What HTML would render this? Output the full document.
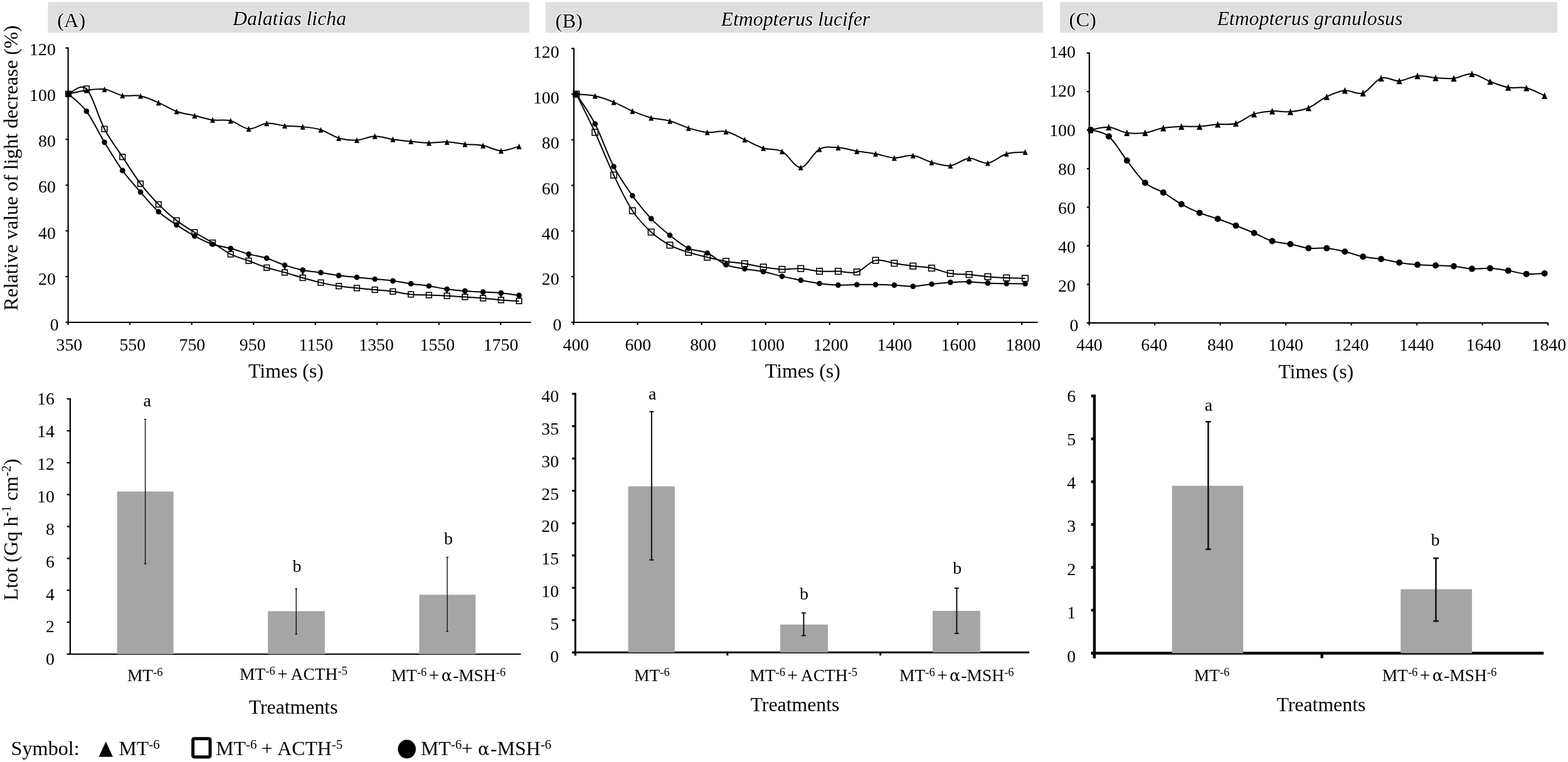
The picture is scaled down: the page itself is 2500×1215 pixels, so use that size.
<!DOCTYPE html>
<html><head><meta charset="utf-8"><title>Figure</title>
<style>
html,body{margin:0;padding:0;background:#fff;}
body{width:2500px;height:1215px;overflow:hidden;}
svg{display:block;font-family:'Liberation Serif', serif;}
</style></head><body>
<svg width="2500" height="1215" viewBox="0 0 2500 1215" font-family="'Liberation Serif', serif" fill="#000">
<rect width="2500" height="1215" fill="#fff"/>
<rect x="76.5" y="3.3" width="767.4" height="48.9" fill="#dfdfdf"/>
<rect x="869.9" y="3.3" width="792.8" height="48.9" fill="#dfdfdf"/>
<rect x="1690.2" y="3.3" width="793.0" height="48.9" fill="#dfdfdf"/>
<text x="91.3" y="43.2" font-size="32.5" text-anchor="start" stroke="#fff" stroke-width="2.2" paint-order="stroke" stroke-linejoin="round">(A)</text>
<text x="885.6" y="43.6" font-size="32.5" text-anchor="start" stroke="#fff" stroke-width="2.2" paint-order="stroke" stroke-linejoin="round">(B)</text>
<text x="1704.6" y="42" font-size="32.5" text-anchor="start" stroke="#fff" stroke-width="2.2" paint-order="stroke" stroke-linejoin="round">(C)</text>
<text x="371" y="40.4" font-size="31.8" text-anchor="start" font-style="italic" stroke="#fff" stroke-width="2.2" paint-order="stroke" stroke-linejoin="round">Dalatias licha</text>
<text x="1149.6" y="40.6" font-size="31.8" text-anchor="start" font-style="italic" stroke="#fff" stroke-width="2.2" paint-order="stroke" stroke-linejoin="round">Etmopterus lucifer</text>
<text x="1940.4" y="40.3" font-size="31.8" text-anchor="start" font-style="italic" stroke="#fff" stroke-width="2.2" paint-order="stroke" stroke-linejoin="round">Etmopterus granulosus</text>
<line x1="108.6" y1="75.5" x2="108.6" y2="515" stroke="#000" stroke-width="2.2"/>
<line x1="107.6" y1="514" x2="846.8" y2="514" stroke="#000" stroke-width="2.2"/>
<line x1="104.6" y1="76.5" x2="108.6" y2="76.5" stroke="#000" stroke-width="2.2"/>
<text x="88.8" y="87.8" font-size="27.8" text-anchor="end">120</text>
<line x1="104.6" y1="149.4" x2="108.6" y2="149.4" stroke="#000" stroke-width="2.2"/>
<text x="88.8" y="161" font-size="27.8" text-anchor="end">100</text>
<line x1="104.6" y1="222.3" x2="108.6" y2="222.3" stroke="#000" stroke-width="2.2"/>
<text x="88.8" y="234.2" font-size="27.8" text-anchor="end">80</text>
<line x1="104.6" y1="295.2" x2="108.6" y2="295.2" stroke="#000" stroke-width="2.2"/>
<text x="88.8" y="307.3" font-size="27.8" text-anchor="end">60</text>
<line x1="104.6" y1="368.1" x2="108.6" y2="368.1" stroke="#000" stroke-width="2.2"/>
<text x="88.8" y="380.5" font-size="27.8" text-anchor="end">40</text>
<line x1="104.6" y1="441" x2="108.6" y2="441" stroke="#000" stroke-width="2.2"/>
<text x="88.8" y="453.7" font-size="27.8" text-anchor="end">20</text>
<line x1="104.6" y1="513.9" x2="108.6" y2="513.9" stroke="#000" stroke-width="2.2"/>
<text x="93.6" y="526.9" font-size="27.8" text-anchor="end">0</text>
<line x1="108.6" y1="514" x2="108.6" y2="518" stroke="#000" stroke-width="2.2"/>
<text x="110.4" y="559.2" font-size="27.8" text-anchor="middle">350</text>
<line x1="207.1" y1="514" x2="207.1" y2="518" stroke="#000" stroke-width="2.2"/>
<text x="211.3" y="559.2" font-size="27.8" text-anchor="middle">550</text>
<line x1="305.7" y1="514" x2="305.7" y2="518" stroke="#000" stroke-width="2.2"/>
<text x="306.4" y="559.2" font-size="27.8" text-anchor="middle">750</text>
<line x1="404.2" y1="514" x2="404.2" y2="518" stroke="#000" stroke-width="2.2"/>
<text x="402.7" y="559.2" font-size="27.8" text-anchor="middle">950</text>
<line x1="502.7" y1="514" x2="502.7" y2="518" stroke="#000" stroke-width="2.2"/>
<text x="503.9" y="559.2" font-size="27.8" text-anchor="middle">1150</text>
<line x1="601.2" y1="514" x2="601.2" y2="518" stroke="#000" stroke-width="2.2"/>
<text x="600.1" y="559.2" font-size="27.8" text-anchor="middle">1350</text>
<line x1="699.8" y1="514" x2="699.8" y2="518" stroke="#000" stroke-width="2.2"/>
<text x="697.3" y="559.2" font-size="27.8" text-anchor="middle">1550</text>
<line x1="798.3" y1="514" x2="798.3" y2="518" stroke="#000" stroke-width="2.2"/>
<text x="798.5" y="559.2" font-size="27.8" text-anchor="middle">1750</text>
<text x="456" y="601.8" font-size="31.8" text-anchor="middle">Times (s)</text>
<path d="M109.10,149.80 C113.89,148.83 128.26,145.25 137.84,144.00 C147.42,142.75 157.00,140.93 166.58,142.30 C176.16,143.67 185.74,150.42 195.32,152.20 C204.90,153.98 214.48,151.08 224.06,153.00 C233.64,154.92 243.22,159.58 252.80,163.70 C262.38,167.82 271.96,174.27 281.54,177.70 C291.12,181.13 300.70,182.05 310.28,184.30 C319.86,186.55 329.44,189.82 339.02,191.20 C348.60,192.58 358.18,190.23 367.76,192.60 C377.34,194.97 386.92,204.72 396.50,205.40 C406.08,206.08 415.66,197.52 425.24,196.70 C434.82,195.88 444.40,199.58 453.98,200.50 C463.56,201.42 473.14,201.12 482.72,202.20 C492.30,203.28 501.88,204.00 511.46,207.00 C521.04,210.00 530.62,217.45 540.20,220.20 C549.78,222.95 559.36,224.00 568.94,223.50 C578.52,223.00 588.10,217.42 597.68,217.20 C607.26,216.98 616.84,220.82 626.42,222.20 C636.00,223.58 645.58,224.55 655.16,225.50 C664.74,226.45 674.32,227.77 683.90,227.90 C693.48,228.03 703.06,225.97 712.64,226.30 C722.22,226.63 731.80,228.93 741.38,229.90 C750.96,230.87 760.54,230.37 770.12,232.10 C779.70,233.83 789.28,240.08 798.86,240.30 C808.44,240.52 822.81,234.55 827.60,233.40" fill="none" stroke="#000" stroke-width="2"/>
<polygon points="105.10,154.40 113.10,154.40 109.10,145.20" fill="#000"/>
<polygon points="133.84,148.60 141.84,148.60 137.84,139.40" fill="#000"/>
<polygon points="162.58,146.90 170.58,146.90 166.58,137.70" fill="#000"/>
<polygon points="191.32,156.80 199.32,156.80 195.32,147.60" fill="#000"/>
<polygon points="220.06,157.60 228.06,157.60 224.06,148.40" fill="#000"/>
<polygon points="248.80,168.30 256.80,168.30 252.80,159.10" fill="#000"/>
<polygon points="277.54,182.30 285.54,182.30 281.54,173.10" fill="#000"/>
<polygon points="306.28,188.90 314.28,188.90 310.28,179.70" fill="#000"/>
<polygon points="335.02,195.80 343.02,195.80 339.02,186.60" fill="#000"/>
<polygon points="363.76,197.20 371.76,197.20 367.76,188.00" fill="#000"/>
<polygon points="392.50,210.00 400.50,210.00 396.50,200.80" fill="#000"/>
<polygon points="421.24,201.30 429.24,201.30 425.24,192.10" fill="#000"/>
<polygon points="449.98,205.10 457.98,205.10 453.98,195.90" fill="#000"/>
<polygon points="478.72,206.80 486.72,206.80 482.72,197.60" fill="#000"/>
<polygon points="507.46,211.60 515.46,211.60 511.46,202.40" fill="#000"/>
<polygon points="536.20,224.80 544.20,224.80 540.20,215.60" fill="#000"/>
<polygon points="564.94,228.10 572.94,228.10 568.94,218.90" fill="#000"/>
<polygon points="593.68,221.80 601.68,221.80 597.68,212.60" fill="#000"/>
<polygon points="622.42,226.80 630.42,226.80 626.42,217.60" fill="#000"/>
<polygon points="651.16,230.10 659.16,230.10 655.16,220.90" fill="#000"/>
<polygon points="679.90,232.50 687.90,232.50 683.90,223.30" fill="#000"/>
<polygon points="708.64,230.90 716.64,230.90 712.64,221.70" fill="#000"/>
<polygon points="737.38,234.50 745.38,234.50 741.38,225.30" fill="#000"/>
<polygon points="766.12,236.70 774.12,236.70 770.12,227.50" fill="#000"/>
<polygon points="794.86,244.90 802.86,244.90 798.86,235.70" fill="#000"/>
<polygon points="823.60,238.00 831.60,238.00 827.60,228.80" fill="#000"/>
<path d="M109.10,149.80 C113.89,154.40 128.26,164.57 137.84,177.40 C147.42,190.23 157.00,211.05 166.58,226.80 C176.16,242.55 185.74,258.63 195.32,271.90 C204.90,285.17 214.48,295.45 224.06,306.40 C233.64,317.35 243.22,328.88 252.80,337.60 C262.38,346.32 271.96,352.25 281.54,358.70 C291.12,365.15 300.70,371.17 310.28,376.30 C319.86,381.43 329.44,386.22 339.02,389.50 C348.60,392.78 358.18,393.40 367.76,396.00 C377.34,398.60 386.92,402.48 396.50,405.10 C406.08,407.72 415.66,408.73 425.24,411.70 C434.82,414.67 444.40,419.73 453.98,422.90 C463.56,426.07 473.14,428.73 482.72,430.70 C492.30,432.67 501.88,433.27 511.46,434.70 C521.04,436.13 530.62,438.05 540.20,439.30 C549.78,440.55 559.36,441.25 568.94,442.20 C578.52,443.15 588.10,444.07 597.68,445.00 C607.26,445.93 616.84,446.57 626.42,447.80 C636.00,449.03 645.58,451.03 655.16,452.40 C664.74,453.77 674.32,454.57 683.90,456.00 C693.48,457.43 703.06,459.68 712.64,461.00 C722.22,462.32 731.80,463.13 741.38,463.90 C750.96,464.67 760.54,465.05 770.12,465.60 C779.70,466.15 789.28,466.32 798.86,467.20 C808.44,468.08 822.81,470.28 827.60,470.90" fill="none" stroke="#000" stroke-width="2"/>
<circle cx="109.10" cy="149.80" r="4.35" fill="#000"/>
<circle cx="137.84" cy="177.40" r="4.35" fill="#000"/>
<circle cx="166.58" cy="226.80" r="4.35" fill="#000"/>
<circle cx="195.32" cy="271.90" r="4.35" fill="#000"/>
<circle cx="224.06" cy="306.40" r="4.35" fill="#000"/>
<circle cx="252.80" cy="337.60" r="4.35" fill="#000"/>
<circle cx="281.54" cy="358.70" r="4.35" fill="#000"/>
<circle cx="310.28" cy="376.30" r="4.35" fill="#000"/>
<circle cx="339.02" cy="389.50" r="4.35" fill="#000"/>
<circle cx="367.76" cy="396.00" r="4.35" fill="#000"/>
<circle cx="396.50" cy="405.10" r="4.35" fill="#000"/>
<circle cx="425.24" cy="411.70" r="4.35" fill="#000"/>
<circle cx="453.98" cy="422.90" r="4.35" fill="#000"/>
<circle cx="482.72" cy="430.70" r="4.35" fill="#000"/>
<circle cx="511.46" cy="434.70" r="4.35" fill="#000"/>
<circle cx="540.20" cy="439.30" r="4.35" fill="#000"/>
<circle cx="568.94" cy="442.20" r="4.35" fill="#000"/>
<circle cx="597.68" cy="445.00" r="4.35" fill="#000"/>
<circle cx="626.42" cy="447.80" r="4.35" fill="#000"/>
<circle cx="655.16" cy="452.40" r="4.35" fill="#000"/>
<circle cx="683.90" cy="456.00" r="4.35" fill="#000"/>
<circle cx="712.64" cy="461.00" r="4.35" fill="#000"/>
<circle cx="741.38" cy="463.90" r="4.35" fill="#000"/>
<circle cx="770.12" cy="465.60" r="4.35" fill="#000"/>
<circle cx="798.86" cy="467.20" r="4.35" fill="#000"/>
<circle cx="827.60" cy="470.90" r="4.35" fill="#000"/>
<path d="M109.10,149.80 C113.89,148.42 128.26,132.18 137.84,141.50 C147.42,150.82 157.00,187.58 166.58,205.70 C176.16,223.82 185.74,235.67 195.32,250.20 C204.90,264.73 214.48,280.28 224.06,292.90 C233.64,305.52 243.22,316.12 252.80,325.90 C262.38,335.68 271.96,344.17 281.54,351.60 C291.12,359.03 300.70,364.60 310.28,370.50 C319.86,376.40 329.44,381.18 339.02,387.00 C348.60,392.82 358.18,400.60 367.76,405.40 C377.34,410.20 386.92,412.23 396.50,415.80 C406.08,419.37 415.66,423.70 425.24,426.80 C434.82,429.90 444.40,431.70 453.98,434.40 C463.56,437.10 473.14,440.30 482.72,443.00 C492.30,445.70 501.88,448.40 511.46,450.60 C521.04,452.80 530.62,454.75 540.20,456.20 C549.78,457.65 559.36,458.33 568.94,459.30 C578.52,460.27 588.10,461.08 597.68,462.00 C607.26,462.92 616.84,463.57 626.42,464.80 C636.00,466.03 645.58,468.45 655.16,469.40 C664.74,470.35 674.32,470.12 683.90,470.50 C693.48,470.88 703.06,471.20 712.64,471.70 C722.22,472.20 731.80,472.87 741.38,473.50 C750.96,474.13 760.54,474.68 770.12,475.50 C779.70,476.32 789.28,477.67 798.86,478.40 C808.44,479.13 822.81,479.65 827.60,479.90" fill="none" stroke="#000" stroke-width="2"/>
<rect x="104.80" y="145.50" width="8.60" height="8.60" fill="none" stroke="#000" stroke-width="1.6"/>
<rect x="133.54" y="137.20" width="8.60" height="8.60" fill="none" stroke="#000" stroke-width="1.6"/>
<rect x="162.28" y="201.40" width="8.60" height="8.60" fill="none" stroke="#000" stroke-width="1.6"/>
<rect x="191.02" y="245.90" width="8.60" height="8.60" fill="none" stroke="#000" stroke-width="1.6"/>
<rect x="219.76" y="288.60" width="8.60" height="8.60" fill="none" stroke="#000" stroke-width="1.6"/>
<rect x="248.50" y="321.60" width="8.60" height="8.60" fill="none" stroke="#000" stroke-width="1.6"/>
<rect x="277.24" y="347.30" width="8.60" height="8.60" fill="none" stroke="#000" stroke-width="1.6"/>
<rect x="305.98" y="366.20" width="8.60" height="8.60" fill="none" stroke="#000" stroke-width="1.6"/>
<rect x="334.72" y="382.70" width="8.60" height="8.60" fill="none" stroke="#000" stroke-width="1.6"/>
<rect x="363.46" y="401.10" width="8.60" height="8.60" fill="none" stroke="#000" stroke-width="1.6"/>
<rect x="392.20" y="411.50" width="8.60" height="8.60" fill="none" stroke="#000" stroke-width="1.6"/>
<rect x="420.94" y="422.50" width="8.60" height="8.60" fill="none" stroke="#000" stroke-width="1.6"/>
<rect x="449.68" y="430.10" width="8.60" height="8.60" fill="none" stroke="#000" stroke-width="1.6"/>
<rect x="478.42" y="438.70" width="8.60" height="8.60" fill="none" stroke="#000" stroke-width="1.6"/>
<rect x="507.16" y="446.30" width="8.60" height="8.60" fill="none" stroke="#000" stroke-width="1.6"/>
<rect x="535.90" y="451.90" width="8.60" height="8.60" fill="none" stroke="#000" stroke-width="1.6"/>
<rect x="564.64" y="455.00" width="8.60" height="8.60" fill="none" stroke="#000" stroke-width="1.6"/>
<rect x="593.38" y="457.70" width="8.60" height="8.60" fill="none" stroke="#000" stroke-width="1.6"/>
<rect x="622.12" y="460.50" width="8.60" height="8.60" fill="none" stroke="#000" stroke-width="1.6"/>
<rect x="650.86" y="465.10" width="8.60" height="8.60" fill="none" stroke="#000" stroke-width="1.6"/>
<rect x="679.60" y="466.20" width="8.60" height="8.60" fill="none" stroke="#000" stroke-width="1.6"/>
<rect x="708.34" y="467.40" width="8.60" height="8.60" fill="none" stroke="#000" stroke-width="1.6"/>
<rect x="737.08" y="469.20" width="8.60" height="8.60" fill="none" stroke="#000" stroke-width="1.6"/>
<rect x="765.82" y="471.20" width="8.60" height="8.60" fill="none" stroke="#000" stroke-width="1.6"/>
<rect x="794.56" y="474.10" width="8.60" height="8.60" fill="none" stroke="#000" stroke-width="1.6"/>
<rect x="823.30" y="475.60" width="8.60" height="8.60" fill="none" stroke="#000" stroke-width="1.6"/>
<line x1="367.76" y1="396.00" x2="367.76" y2="401.40" stroke="#000" stroke-width="2.6"/>
<line x1="396.50" y1="405.10" x2="396.50" y2="411.80" stroke="#000" stroke-width="2.6"/>
<line x1="453.98" y1="422.90" x2="453.98" y2="430.40" stroke="#000" stroke-width="2.6"/>
<line x1="482.72" y1="430.70" x2="482.72" y2="439.00" stroke="#000" stroke-width="2.6"/>
<line x1="712.64" y1="461.00" x2="712.64" y2="467.70" stroke="#000" stroke-width="2.6"/>
<line x1="741.38" y1="463.90" x2="741.38" y2="469.50" stroke="#000" stroke-width="2.6"/>
<line x1="770.12" y1="465.60" x2="770.12" y2="471.50" stroke="#000" stroke-width="2.6"/>
<line x1="798.86" y1="467.20" x2="798.86" y2="474.40" stroke="#000" stroke-width="2.6"/>
<line x1="827.60" y1="470.90" x2="827.60" y2="475.90" stroke="#000" stroke-width="2.6"/>
<line x1="915" y1="76.5" x2="915" y2="515" stroke="#000" stroke-width="2.2"/>
<line x1="914" y1="514" x2="1654.7" y2="514" stroke="#000" stroke-width="2.2"/>
<line x1="911" y1="77.4" x2="915" y2="77.4" stroke="#000" stroke-width="2.2"/>
<text x="891.6" y="92.1" font-size="27.8" text-anchor="end">120</text>
<line x1="911" y1="150.2" x2="915" y2="150.2" stroke="#000" stroke-width="2.2"/>
<text x="891.6" y="164.6" font-size="27.8" text-anchor="end">100</text>
<line x1="911" y1="222.9" x2="915" y2="222.9" stroke="#000" stroke-width="2.2"/>
<text x="891.6" y="237" font-size="27.8" text-anchor="end">80</text>
<line x1="911" y1="295.6" x2="915" y2="295.6" stroke="#000" stroke-width="2.2"/>
<text x="891.6" y="309.5" font-size="27.8" text-anchor="end">60</text>
<line x1="911" y1="368.4" x2="915" y2="368.4" stroke="#000" stroke-width="2.2"/>
<text x="891.6" y="382" font-size="27.8" text-anchor="end">40</text>
<line x1="911" y1="441.1" x2="915" y2="441.1" stroke="#000" stroke-width="2.2"/>
<text x="891.6" y="454.4" font-size="27.8" text-anchor="end">20</text>
<line x1="911" y1="513.9" x2="915" y2="513.9" stroke="#000" stroke-width="2.2"/>
<text x="895.5" y="526.9" font-size="27.8" text-anchor="end">0</text>
<line x1="914.5" y1="514" x2="914.5" y2="518" stroke="#000" stroke-width="2.2"/>
<text x="918.4" y="559.2" font-size="27.8" text-anchor="middle">400</text>
<line x1="1016.6" y1="514" x2="1016.6" y2="518" stroke="#000" stroke-width="2.2"/>
<text x="1017.3" y="559.2" font-size="27.8" text-anchor="middle">600</text>
<line x1="1118.7" y1="514" x2="1118.7" y2="518" stroke="#000" stroke-width="2.2"/>
<text x="1121" y="559.2" font-size="27.8" text-anchor="middle">800</text>
<line x1="1220.8" y1="514" x2="1220.8" y2="518" stroke="#000" stroke-width="2.2"/>
<text x="1223.2" y="559.2" font-size="27.8" text-anchor="middle">1000</text>
<line x1="1322.9" y1="514" x2="1322.9" y2="518" stroke="#000" stroke-width="2.2"/>
<text x="1324.7" y="559.2" font-size="27.8" text-anchor="middle">1200</text>
<line x1="1425" y1="514" x2="1425" y2="518" stroke="#000" stroke-width="2.2"/>
<text x="1426.4" y="559.2" font-size="27.8" text-anchor="middle">1400</text>
<line x1="1527.1" y1="514" x2="1527.1" y2="518" stroke="#000" stroke-width="2.2"/>
<text x="1528.4" y="559.2" font-size="27.8" text-anchor="middle">1600</text>
<line x1="1629.2" y1="514" x2="1629.2" y2="518" stroke="#000" stroke-width="2.2"/>
<text x="1631.4" y="559.2" font-size="27.8" text-anchor="middle">1800</text>
<text x="1279.8" y="601.8" font-size="31.8" text-anchor="middle">Times (s)</text>
<path d="M918.90,150.10 C923.87,150.58 938.78,150.87 948.72,153.00 C958.66,155.13 968.60,158.88 978.54,162.90 C988.48,166.92 998.42,172.95 1008.36,177.10 C1018.30,181.25 1028.24,185.18 1038.18,187.80 C1048.12,190.42 1058.06,190.08 1068.00,192.80 C1077.94,195.52 1087.88,201.07 1097.82,204.10 C1107.76,207.13 1117.70,210.05 1127.64,211.00 C1137.58,211.95 1147.52,207.85 1157.46,209.80 C1167.40,211.75 1177.34,218.30 1187.28,222.70 C1197.22,227.10 1207.16,233.08 1217.10,236.20 C1227.04,239.32 1236.98,236.27 1246.92,241.40 C1256.86,246.53 1266.80,267.60 1276.74,267.00 C1286.68,266.40 1296.62,243.08 1306.56,237.80 C1316.50,232.52 1326.44,234.75 1336.38,235.30 C1346.32,235.85 1356.26,239.45 1366.20,241.10 C1376.14,242.75 1386.08,243.42 1396.02,245.20 C1405.96,246.98 1415.90,251.33 1425.84,251.80 C1435.78,252.27 1445.72,246.82 1455.66,248.00 C1465.60,249.18 1475.54,256.20 1485.48,258.90 C1495.42,261.60 1505.36,265.25 1515.30,264.20 C1525.24,263.15 1535.18,253.30 1545.12,252.60 C1555.06,251.90 1565.00,261.23 1574.94,260.00 C1584.88,258.77 1594.82,248.13 1604.76,245.20 C1614.70,242.27 1629.61,242.87 1634.58,242.40" fill="none" stroke="#000" stroke-width="2"/>
<polygon points="914.90,154.70 922.90,154.70 918.90,145.50" fill="#000"/>
<polygon points="944.72,157.60 952.72,157.60 948.72,148.40" fill="#000"/>
<polygon points="974.54,167.50 982.54,167.50 978.54,158.30" fill="#000"/>
<polygon points="1004.36,181.70 1012.36,181.70 1008.36,172.50" fill="#000"/>
<polygon points="1034.18,192.40 1042.18,192.40 1038.18,183.20" fill="#000"/>
<polygon points="1064.00,197.40 1072.00,197.40 1068.00,188.20" fill="#000"/>
<polygon points="1093.82,208.70 1101.82,208.70 1097.82,199.50" fill="#000"/>
<polygon points="1123.64,215.60 1131.64,215.60 1127.64,206.40" fill="#000"/>
<polygon points="1153.46,214.40 1161.46,214.40 1157.46,205.20" fill="#000"/>
<polygon points="1183.28,227.30 1191.28,227.30 1187.28,218.10" fill="#000"/>
<polygon points="1213.10,240.80 1221.10,240.80 1217.10,231.60" fill="#000"/>
<polygon points="1242.92,246.00 1250.92,246.00 1246.92,236.80" fill="#000"/>
<polygon points="1272.74,271.60 1280.74,271.60 1276.74,262.40" fill="#000"/>
<polygon points="1302.56,242.40 1310.56,242.40 1306.56,233.20" fill="#000"/>
<polygon points="1332.38,239.90 1340.38,239.90 1336.38,230.70" fill="#000"/>
<polygon points="1362.20,245.70 1370.20,245.70 1366.20,236.50" fill="#000"/>
<polygon points="1392.02,249.80 1400.02,249.80 1396.02,240.60" fill="#000"/>
<polygon points="1421.84,256.40 1429.84,256.40 1425.84,247.20" fill="#000"/>
<polygon points="1451.66,252.60 1459.66,252.60 1455.66,243.40" fill="#000"/>
<polygon points="1481.48,263.50 1489.48,263.50 1485.48,254.30" fill="#000"/>
<polygon points="1511.30,268.80 1519.30,268.80 1515.30,259.60" fill="#000"/>
<polygon points="1541.12,257.20 1549.12,257.20 1545.12,248.00" fill="#000"/>
<polygon points="1570.94,264.60 1578.94,264.60 1574.94,255.40" fill="#000"/>
<polygon points="1600.76,249.80 1608.76,249.80 1604.76,240.60" fill="#000"/>
<polygon points="1630.58,247.00 1638.58,247.00 1634.58,237.80" fill="#000"/>
<path d="M918.90,150.10 C923.87,158.00 938.78,178.27 948.72,197.50 C958.66,216.73 968.60,246.42 978.54,265.50 C988.48,284.58 998.42,298.15 1008.36,312.00 C1018.30,325.85 1028.24,338.07 1038.18,348.60 C1048.12,359.13 1058.06,367.33 1068.00,375.20 C1077.94,383.07 1087.88,391.08 1097.82,395.80 C1107.76,400.52 1117.70,399.12 1127.64,403.50 C1137.58,407.88 1147.52,417.90 1157.46,422.10 C1167.40,426.30 1177.34,426.85 1187.28,428.70 C1197.22,430.55 1207.16,431.22 1217.10,433.20 C1227.04,435.18 1236.98,438.33 1246.92,440.60 C1256.86,442.87 1266.80,444.90 1276.74,446.80 C1286.68,448.70 1296.62,450.70 1306.56,452.00 C1316.50,453.30 1326.44,454.30 1336.38,454.60 C1346.32,454.90 1356.26,453.93 1366.20,453.80 C1376.14,453.67 1386.08,453.65 1396.02,453.80 C1405.96,453.95 1415.90,454.23 1425.84,454.70 C1435.78,455.17 1445.72,456.88 1455.66,456.60 C1465.60,456.32 1475.54,454.07 1485.48,453.00 C1495.42,451.93 1505.36,450.80 1515.30,450.20 C1525.24,449.60 1535.18,449.20 1545.12,449.40 C1555.06,449.60 1565.00,450.93 1574.94,451.40 C1584.88,451.87 1594.82,452.02 1604.76,452.20 C1614.70,452.38 1629.61,452.45 1634.58,452.50" fill="none" stroke="#000" stroke-width="2"/>
<circle cx="918.90" cy="150.10" r="4.35" fill="#000"/>
<circle cx="948.72" cy="197.50" r="4.35" fill="#000"/>
<circle cx="978.54" cy="265.50" r="4.35" fill="#000"/>
<circle cx="1008.36" cy="312.00" r="4.35" fill="#000"/>
<circle cx="1038.18" cy="348.60" r="4.35" fill="#000"/>
<circle cx="1068.00" cy="375.20" r="4.35" fill="#000"/>
<circle cx="1097.82" cy="395.80" r="4.35" fill="#000"/>
<circle cx="1127.64" cy="403.50" r="4.35" fill="#000"/>
<circle cx="1157.46" cy="422.10" r="4.35" fill="#000"/>
<circle cx="1187.28" cy="428.70" r="4.35" fill="#000"/>
<circle cx="1217.10" cy="433.20" r="4.35" fill="#000"/>
<circle cx="1246.92" cy="440.60" r="4.35" fill="#000"/>
<circle cx="1276.74" cy="446.80" r="4.35" fill="#000"/>
<circle cx="1306.56" cy="452.00" r="4.35" fill="#000"/>
<circle cx="1336.38" cy="454.60" r="4.35" fill="#000"/>
<circle cx="1366.20" cy="453.80" r="4.35" fill="#000"/>
<circle cx="1396.02" cy="453.80" r="4.35" fill="#000"/>
<circle cx="1425.84" cy="454.70" r="4.35" fill="#000"/>
<circle cx="1455.66" cy="456.60" r="4.35" fill="#000"/>
<circle cx="1485.48" cy="453.00" r="4.35" fill="#000"/>
<circle cx="1515.30" cy="450.20" r="4.35" fill="#000"/>
<circle cx="1545.12" cy="449.40" r="4.35" fill="#000"/>
<circle cx="1574.94" cy="451.40" r="4.35" fill="#000"/>
<circle cx="1604.76" cy="452.20" r="4.35" fill="#000"/>
<circle cx="1634.58" cy="452.50" r="4.35" fill="#000"/>
<path d="M918.90,150.10 C923.87,160.25 938.78,189.48 948.72,211.00 C958.66,232.52 968.60,258.37 978.54,279.20 C988.48,300.03 998.42,320.87 1008.36,336.00 C1018.30,351.13 1028.24,360.85 1038.18,370.00 C1048.12,379.15 1058.06,385.50 1068.00,390.90 C1077.94,396.30 1087.88,399.20 1097.82,402.40 C1107.76,405.60 1117.70,407.72 1127.64,410.10 C1137.58,412.48 1147.52,414.97 1157.46,416.70 C1167.40,418.43 1177.34,418.97 1187.28,420.50 C1197.22,422.03 1207.16,424.40 1217.10,425.90 C1227.04,427.40 1236.98,429.12 1246.92,429.50 C1256.86,429.88 1266.80,427.70 1276.74,428.20 C1286.68,428.70 1296.62,431.77 1306.56,432.50 C1316.50,433.23 1326.44,432.40 1336.38,432.60 C1346.32,432.80 1356.26,436.62 1366.20,433.70 C1376.14,430.78 1386.08,417.42 1396.02,415.10 C1405.96,412.78 1415.90,418.28 1425.84,419.80 C1435.78,421.32 1445.72,422.92 1455.66,424.20 C1465.60,425.48 1475.54,425.53 1485.48,427.50 C1495.42,429.47 1505.36,434.30 1515.30,436.00 C1525.24,437.70 1535.18,436.83 1545.12,437.70 C1555.06,438.57 1565.00,440.30 1574.94,441.20 C1584.88,442.10 1594.82,442.65 1604.76,443.10 C1614.70,443.55 1629.61,443.77 1634.58,443.90" fill="none" stroke="#000" stroke-width="2"/>
<rect x="914.17" y="145.37" width="9.46" height="9.46" fill="none" stroke="#000" stroke-width="1.6"/>
<rect x="943.99" y="206.27" width="9.46" height="9.46" fill="none" stroke="#000" stroke-width="1.6"/>
<rect x="973.81" y="274.47" width="9.46" height="9.46" fill="none" stroke="#000" stroke-width="1.6"/>
<rect x="1003.63" y="331.27" width="9.46" height="9.46" fill="none" stroke="#000" stroke-width="1.6"/>
<rect x="1033.45" y="365.27" width="9.46" height="9.46" fill="none" stroke="#000" stroke-width="1.6"/>
<rect x="1063.27" y="386.17" width="9.46" height="9.46" fill="none" stroke="#000" stroke-width="1.6"/>
<rect x="1093.09" y="397.67" width="9.46" height="9.46" fill="none" stroke="#000" stroke-width="1.6"/>
<rect x="1122.91" y="405.37" width="9.46" height="9.46" fill="none" stroke="#000" stroke-width="1.6"/>
<rect x="1152.73" y="411.97" width="9.46" height="9.46" fill="none" stroke="#000" stroke-width="1.6"/>
<rect x="1182.55" y="415.77" width="9.46" height="9.46" fill="none" stroke="#000" stroke-width="1.6"/>
<rect x="1212.37" y="421.17" width="9.46" height="9.46" fill="none" stroke="#000" stroke-width="1.6"/>
<rect x="1242.19" y="424.77" width="9.46" height="9.46" fill="none" stroke="#000" stroke-width="1.6"/>
<rect x="1272.01" y="423.47" width="9.46" height="9.46" fill="none" stroke="#000" stroke-width="1.6"/>
<rect x="1301.83" y="427.77" width="9.46" height="9.46" fill="none" stroke="#000" stroke-width="1.6"/>
<rect x="1331.65" y="427.87" width="9.46" height="9.46" fill="none" stroke="#000" stroke-width="1.6"/>
<rect x="1361.47" y="428.97" width="9.46" height="9.46" fill="none" stroke="#000" stroke-width="1.6"/>
<rect x="1391.29" y="410.37" width="9.46" height="9.46" fill="none" stroke="#000" stroke-width="1.6"/>
<rect x="1421.11" y="415.07" width="9.46" height="9.46" fill="none" stroke="#000" stroke-width="1.6"/>
<rect x="1450.93" y="419.47" width="9.46" height="9.46" fill="none" stroke="#000" stroke-width="1.6"/>
<rect x="1480.75" y="422.77" width="9.46" height="9.46" fill="none" stroke="#000" stroke-width="1.6"/>
<rect x="1510.57" y="431.27" width="9.46" height="9.46" fill="none" stroke="#000" stroke-width="1.6"/>
<rect x="1540.39" y="432.97" width="9.46" height="9.46" fill="none" stroke="#000" stroke-width="1.6"/>
<rect x="1570.21" y="436.47" width="9.46" height="9.46" fill="none" stroke="#000" stroke-width="1.6"/>
<rect x="1600.03" y="438.37" width="9.46" height="9.46" fill="none" stroke="#000" stroke-width="1.6"/>
<rect x="1629.85" y="439.17" width="9.46" height="9.46" fill="none" stroke="#000" stroke-width="1.6"/>
<line x1="1097.82" y1="395.80" x2="1097.82" y2="398.40" stroke="#000" stroke-width="2.6"/>
<line x1="1127.64" y1="403.50" x2="1127.64" y2="406.10" stroke="#000" stroke-width="2.6"/>
<line x1="1736.8" y1="83.5" x2="1736.8" y2="515.8" stroke="#000" stroke-width="2.2"/>
<line x1="1735.8" y1="514.8" x2="2468.5" y2="514.8" stroke="#000" stroke-width="2.2"/>
<line x1="1732.8" y1="84.6" x2="1736.8" y2="84.6" stroke="#000" stroke-width="2.2"/>
<text x="1714.9" y="92.2" font-size="27.8" text-anchor="end">140</text>
<line x1="1732.8" y1="146.1" x2="1736.8" y2="146.1" stroke="#000" stroke-width="2.2"/>
<text x="1714.9" y="154.3" font-size="27.8" text-anchor="end">120</text>
<line x1="1732.8" y1="207.5" x2="1736.8" y2="207.5" stroke="#000" stroke-width="2.2"/>
<text x="1714.9" y="216.6" font-size="27.8" text-anchor="end">100</text>
<line x1="1732.8" y1="269" x2="1736.8" y2="269" stroke="#000" stroke-width="2.2"/>
<text x="1714.9" y="278.8" font-size="27.8" text-anchor="end">80</text>
<line x1="1732.8" y1="330.4" x2="1736.8" y2="330.4" stroke="#000" stroke-width="2.2"/>
<text x="1714.9" y="340.9" font-size="27.8" text-anchor="end">60</text>
<line x1="1732.8" y1="391.9" x2="1736.8" y2="391.9" stroke="#000" stroke-width="2.2"/>
<text x="1714.9" y="403.1" font-size="27.8" text-anchor="end">40</text>
<line x1="1732.8" y1="453.4" x2="1736.8" y2="453.4" stroke="#000" stroke-width="2.2"/>
<text x="1714.9" y="465.4" font-size="27.8" text-anchor="end">20</text>
<line x1="1732.8" y1="514.8" x2="1736.8" y2="514.8" stroke="#000" stroke-width="2.2"/>
<text x="1719.5" y="527.6" font-size="27.8" text-anchor="end">0</text>
<line x1="1736.6" y1="514.8" x2="1736.6" y2="518.8" stroke="#000" stroke-width="2.2"/>
<text x="1736.9" y="559.2" font-size="27.8" text-anchor="middle">440</text>
<line x1="1841.1" y1="514.8" x2="1841.1" y2="518.8" stroke="#000" stroke-width="2.2"/>
<text x="1840.2" y="559.2" font-size="27.8" text-anchor="middle">640</text>
<line x1="1945.6" y1="514.8" x2="1945.6" y2="518.8" stroke="#000" stroke-width="2.2"/>
<text x="1945.8" y="559.2" font-size="27.8" text-anchor="middle">840</text>
<line x1="2050.1" y1="514.8" x2="2050.1" y2="518.8" stroke="#000" stroke-width="2.2"/>
<text x="2050.1" y="559.2" font-size="27.8" text-anchor="middle">1040</text>
<line x1="2154.6" y1="514.8" x2="2154.6" y2="518.8" stroke="#000" stroke-width="2.2"/>
<text x="2154.6" y="559.2" font-size="27.8" text-anchor="middle">1240</text>
<line x1="2259.1" y1="514.8" x2="2259.1" y2="518.8" stroke="#000" stroke-width="2.2"/>
<text x="2258.7" y="559.2" font-size="27.8" text-anchor="middle">1440</text>
<line x1="2363.6" y1="514.8" x2="2363.6" y2="518.8" stroke="#000" stroke-width="2.2"/>
<text x="2365.3" y="559.2" font-size="27.8" text-anchor="middle">1640</text>
<line x1="2468.1" y1="514.8" x2="2468.1" y2="518.8" stroke="#000" stroke-width="2.2"/>
<text x="2469.3" y="559.2" font-size="27.8" text-anchor="middle">1840</text>
<text x="2098.2" y="603" font-size="31.8" text-anchor="middle">Times (s)</text>
<path d="M1738.90,207.20 C1743.73,206.47 1758.20,202.03 1767.85,202.80 C1777.50,203.57 1787.15,210.30 1796.80,211.80 C1806.45,213.30 1816.10,213.08 1825.75,211.80 C1835.40,210.52 1845.05,205.80 1854.70,204.10 C1864.35,202.40 1874.00,202.02 1883.65,201.60 C1893.30,201.18 1902.95,202.15 1912.60,201.60 C1922.25,201.05 1931.90,199.12 1941.55,198.30 C1951.20,197.48 1960.85,199.43 1970.50,196.70 C1980.15,193.97 1989.80,185.15 1999.45,181.90 C2009.10,178.65 2018.75,177.83 2028.40,177.20 C2038.05,176.57 2047.70,178.97 2057.35,178.10 C2067.00,177.23 2076.65,175.98 2086.30,172.00 C2095.95,168.02 2105.60,158.82 2115.25,154.20 C2124.90,149.58 2134.55,145.27 2144.20,144.30 C2153.85,143.33 2163.50,151.68 2173.15,148.40 C2182.80,145.12 2192.45,127.83 2202.10,124.60 C2211.75,121.37 2221.40,129.62 2231.05,129.00 C2240.70,128.38 2250.35,121.72 2260.00,120.90 C2269.65,120.08 2279.30,123.43 2288.95,124.10 C2298.60,124.77 2308.25,125.97 2317.90,124.90 C2327.55,123.83 2337.20,116.85 2346.85,117.70 C2356.50,118.55 2366.15,126.38 2375.80,130.00 C2385.45,133.62 2395.10,137.70 2404.75,139.40 C2414.40,141.10 2424.05,138.00 2433.70,140.20 C2443.35,142.40 2457.82,150.53 2462.65,152.60" fill="none" stroke="#000" stroke-width="2"/>
<polygon points="1734.30,212.49 1743.50,212.49 1738.90,201.91" fill="#000"/>
<polygon points="1763.25,208.09 1772.45,208.09 1767.85,197.51" fill="#000"/>
<polygon points="1792.20,217.09 1801.40,217.09 1796.80,206.51" fill="#000"/>
<polygon points="1821.15,217.09 1830.35,217.09 1825.75,206.51" fill="#000"/>
<polygon points="1850.10,209.39 1859.30,209.39 1854.70,198.81" fill="#000"/>
<polygon points="1879.05,206.89 1888.25,206.89 1883.65,196.31" fill="#000"/>
<polygon points="1908.00,206.89 1917.20,206.89 1912.60,196.31" fill="#000"/>
<polygon points="1936.95,203.59 1946.15,203.59 1941.55,193.01" fill="#000"/>
<polygon points="1965.90,201.99 1975.10,201.99 1970.50,191.41" fill="#000"/>
<polygon points="1994.85,187.19 2004.05,187.19 1999.45,176.61" fill="#000"/>
<polygon points="2023.80,182.49 2033.00,182.49 2028.40,171.91" fill="#000"/>
<polygon points="2052.75,183.39 2061.95,183.39 2057.35,172.81" fill="#000"/>
<polygon points="2081.70,177.29 2090.90,177.29 2086.30,166.71" fill="#000"/>
<polygon points="2110.65,159.49 2119.85,159.49 2115.25,148.91" fill="#000"/>
<polygon points="2139.60,149.59 2148.80,149.59 2144.20,139.01" fill="#000"/>
<polygon points="2168.55,153.69 2177.75,153.69 2173.15,143.11" fill="#000"/>
<polygon points="2197.50,129.89 2206.70,129.89 2202.10,119.31" fill="#000"/>
<polygon points="2226.45,134.29 2235.65,134.29 2231.05,123.71" fill="#000"/>
<polygon points="2255.40,126.19 2264.60,126.19 2260.00,115.61" fill="#000"/>
<polygon points="2284.35,129.39 2293.55,129.39 2288.95,118.81" fill="#000"/>
<polygon points="2313.30,130.19 2322.50,130.19 2317.90,119.61" fill="#000"/>
<polygon points="2342.25,122.99 2351.45,122.99 2346.85,112.41" fill="#000"/>
<polygon points="2371.20,135.29 2380.40,135.29 2375.80,124.71" fill="#000"/>
<polygon points="2400.15,144.69 2409.35,144.69 2404.75,134.11" fill="#000"/>
<polygon points="2429.10,145.49 2438.30,145.49 2433.70,134.91" fill="#000"/>
<polygon points="2458.05,157.89 2467.25,157.89 2462.65,147.31" fill="#000"/>
<path d="M1738.90,206.90 C1743.73,208.65 1758.20,209.22 1767.85,217.40 C1777.50,225.58 1787.15,243.67 1796.80,256.00 C1806.45,268.33 1816.10,282.90 1825.75,291.40 C1835.40,299.90 1845.05,301.30 1854.70,307.00 C1864.35,312.70 1874.00,320.20 1883.65,325.60 C1893.30,331.00 1902.95,335.50 1912.60,339.40 C1922.25,343.30 1931.90,345.62 1941.55,349.00 C1951.20,352.38 1960.85,355.95 1970.50,359.70 C1980.15,363.45 1989.80,367.38 1999.45,371.50 C2009.10,375.62 2018.75,381.43 2028.40,384.40 C2038.05,387.37 2047.70,387.40 2057.35,389.30 C2067.00,391.20 2076.65,394.72 2086.30,395.80 C2095.95,396.88 2105.60,394.90 2115.25,395.80 C2124.90,396.70 2134.55,398.97 2144.20,401.20 C2153.85,403.43 2163.50,407.23 2173.15,409.20 C2182.80,411.17 2192.45,411.40 2202.10,413.00 C2211.75,414.60 2221.40,417.28 2231.05,418.80 C2240.70,420.32 2250.35,421.37 2260.00,422.10 C2269.65,422.83 2279.30,422.80 2288.95,423.20 C2298.60,423.60 2308.25,423.60 2317.90,424.50 C2327.55,425.40 2337.20,428.05 2346.85,428.60 C2356.50,429.15 2366.15,427.30 2375.80,427.80 C2385.45,428.30 2395.10,430.08 2404.75,431.60 C2414.40,433.12 2424.05,436.17 2433.70,436.90 C2443.35,437.63 2457.82,436.15 2462.65,436.00" fill="none" stroke="#000" stroke-width="2"/>
<circle cx="1738.90" cy="206.90" r="5.00" fill="#000"/>
<circle cx="1767.85" cy="217.40" r="5.00" fill="#000"/>
<circle cx="1796.80" cy="256.00" r="5.00" fill="#000"/>
<circle cx="1825.75" cy="291.40" r="5.00" fill="#000"/>
<circle cx="1854.70" cy="307.00" r="5.00" fill="#000"/>
<circle cx="1883.65" cy="325.60" r="5.00" fill="#000"/>
<circle cx="1912.60" cy="339.40" r="5.00" fill="#000"/>
<circle cx="1941.55" cy="349.00" r="5.00" fill="#000"/>
<circle cx="1970.50" cy="359.70" r="5.00" fill="#000"/>
<circle cx="1999.45" cy="371.50" r="5.00" fill="#000"/>
<circle cx="2028.40" cy="384.40" r="5.00" fill="#000"/>
<circle cx="2057.35" cy="389.30" r="5.00" fill="#000"/>
<circle cx="2086.30" cy="395.80" r="5.00" fill="#000"/>
<circle cx="2115.25" cy="395.80" r="5.00" fill="#000"/>
<circle cx="2144.20" cy="401.20" r="5.00" fill="#000"/>
<circle cx="2173.15" cy="409.20" r="5.00" fill="#000"/>
<circle cx="2202.10" cy="413.00" r="5.00" fill="#000"/>
<circle cx="2231.05" cy="418.80" r="5.00" fill="#000"/>
<circle cx="2260.00" cy="422.10" r="5.00" fill="#000"/>
<circle cx="2288.95" cy="423.20" r="5.00" fill="#000"/>
<circle cx="2317.90" cy="424.50" r="5.00" fill="#000"/>
<circle cx="2346.85" cy="428.60" r="5.00" fill="#000"/>
<circle cx="2375.80" cy="427.80" r="5.00" fill="#000"/>
<circle cx="2404.75" cy="431.60" r="5.00" fill="#000"/>
<circle cx="2433.70" cy="436.90" r="5.00" fill="#000"/>
<circle cx="2462.65" cy="436.00" r="5.00" fill="#000"/>
<text x="0" y="0" font-size="31.7" text-anchor="middle" transform="translate(27.6,267.8) rotate(-90)">Relative value of light decrease (%)</text>
<line x1="111.9" y1="634.9" x2="111.9" y2="1043" stroke="#000" stroke-width="2.2"/>
<line x1="106.7" y1="1043" x2="830.5" y2="1043" stroke="#000" stroke-width="2.2"/>
<line x1="106.7" y1="636" x2="111.9" y2="636" stroke="#000" stroke-width="2.2"/>
<text x="87" y="645.3" font-size="27.8" text-anchor="end">16</text>
<line x1="106.7" y1="686.9" x2="111.9" y2="686.9" stroke="#000" stroke-width="2.2"/>
<text x="87" y="697.2" font-size="27.8" text-anchor="end">14</text>
<line x1="106.7" y1="737.8" x2="111.9" y2="737.8" stroke="#000" stroke-width="2.2"/>
<text x="87" y="749" font-size="27.8" text-anchor="end">12</text>
<line x1="106.7" y1="788.6" x2="111.9" y2="788.6" stroke="#000" stroke-width="2.2"/>
<text x="87" y="800.9" font-size="27.8" text-anchor="end">10</text>
<line x1="106.7" y1="839.5" x2="111.9" y2="839.5" stroke="#000" stroke-width="2.2"/>
<text x="87" y="852.7" font-size="27.8" text-anchor="end">8</text>
<line x1="106.7" y1="890.4" x2="111.9" y2="890.4" stroke="#000" stroke-width="2.2"/>
<text x="87" y="904.6" font-size="27.8" text-anchor="end">6</text>
<line x1="106.7" y1="941.2" x2="111.9" y2="941.2" stroke="#000" stroke-width="2.2"/>
<text x="87" y="956.5" font-size="27.8" text-anchor="end">4</text>
<line x1="106.7" y1="992.1" x2="111.9" y2="992.1" stroke="#000" stroke-width="2.2"/>
<text x="87" y="1008.3" font-size="27.8" text-anchor="end">2</text>
<line x1="106.7" y1="1043" x2="111.9" y2="1043" stroke="#000" stroke-width="2.2"/>
<text x="87" y="1060.2" font-size="27.8" text-anchor="end">0</text>
<rect x="186.7" y="783.7" width="89.9" height="259.3" fill="#a5a5a5"/>
<rect x="427.1" y="974.5" width="90.8" height="68.5" fill="#a5a5a5"/>
<rect x="668.4" y="948.3" width="89.9" height="94.7" fill="#a5a5a5"/>
<line x1="231.6" y1="668.6" x2="231.6" y2="899" stroke="#111" stroke-width="1.4"/>
<line x1="229.8" y1="668.6" x2="233.4" y2="668.6" stroke="#111" stroke-width="1.4"/>
<line x1="229.8" y1="899" x2="233.4" y2="899" stroke="#111" stroke-width="1.4"/>
<line x1="472.3" y1="938.7" x2="472.3" y2="1011.1" stroke="#111" stroke-width="1.4"/>
<line x1="470.5" y1="938.7" x2="474.1" y2="938.7" stroke="#111" stroke-width="1.4"/>
<line x1="470.5" y1="1011.1" x2="474.1" y2="1011.1" stroke="#111" stroke-width="1.4"/>
<line x1="713.1" y1="888.5" x2="713.1" y2="1006.9" stroke="#111" stroke-width="1.4"/>
<line x1="711.3" y1="888.5" x2="714.9" y2="888.5" stroke="#111" stroke-width="1.4"/>
<line x1="711.3" y1="1006.9" x2="714.9" y2="1006.9" stroke="#111" stroke-width="1.4"/>
<text x="234.8" y="648" font-size="28" text-anchor="middle">a</text>
<text x="473.4" y="911.5" font-size="28" text-anchor="middle">b</text>
<text x="715.1" y="868.1" font-size="28" text-anchor="middle">b</text>
<text x="202.88" y="1086.3" font-size="27.5" xml:space="preserve"><tspan x="202.88">MT</tspan><tspan dy="-8" font-size="18.5">-6</tspan></text>
<text x="382.07" y="1083.7" font-size="27.5" xml:space="preserve"><tspan x="382.07">MT</tspan><tspan dy="-8" font-size="18.5">-6</tspan><tspan x="441.90" dy="8" font-size="30">+</tspan><tspan x="463.62">ACTH</tspan><tspan dy="-8" font-size="18.5">-5</tspan></text>
<text x="623.67" y="1086.3" font-size="27.5" xml:space="preserve"><tspan x="623.67">MT</tspan><tspan dy="-8" font-size="18.5">-6</tspan><tspan x="683.50" dy="8" font-size="30">+</tspan><tspan x="703.73" font-size="25.5" font-family="'DejaVu Serif', serif">α</tspan><tspan x="721.97">-MSH</tspan><tspan dy="-8" font-size="18.5">-6</tspan></text>
<text x="467.6" y="1137.7" font-size="31.8" text-anchor="middle">Treatments</text>
<line x1="917.3" y1="626.5" x2="917.3" y2="1045.3" stroke="#000" stroke-width="3.0"/>
<line x1="912.1" y1="1040.3" x2="1641" y2="1040.3" stroke="#000" stroke-width="3.0"/>
<line x1="912.1" y1="628" x2="917.3" y2="628" stroke="#000" stroke-width="3.0"/>
<text x="891.1" y="641.3" font-size="27.8" text-anchor="end">40</text>
<line x1="912.1" y1="679.5" x2="917.3" y2="679.5" stroke="#000" stroke-width="3.0"/>
<text x="891.1" y="693.1" font-size="27.8" text-anchor="end">35</text>
<line x1="912.1" y1="731.1" x2="917.3" y2="731.1" stroke="#000" stroke-width="3.0"/>
<text x="891.1" y="744.8" font-size="27.8" text-anchor="end">30</text>
<line x1="912.1" y1="782.6" x2="917.3" y2="782.6" stroke="#000" stroke-width="3.0"/>
<text x="891.1" y="796.6" font-size="27.8" text-anchor="end">25</text>
<line x1="912.1" y1="834.2" x2="917.3" y2="834.2" stroke="#000" stroke-width="3.0"/>
<text x="891.1" y="848.4" font-size="27.8" text-anchor="end">20</text>
<line x1="912.1" y1="885.7" x2="917.3" y2="885.7" stroke="#000" stroke-width="3.0"/>
<text x="891.1" y="900.1" font-size="27.8" text-anchor="end">15</text>
<line x1="912.1" y1="937.2" x2="917.3" y2="937.2" stroke="#000" stroke-width="3.0"/>
<text x="891.1" y="951.9" font-size="27.8" text-anchor="end">10</text>
<line x1="912.1" y1="988.8" x2="917.3" y2="988.8" stroke="#000" stroke-width="3.0"/>
<text x="891.1" y="1003.7" font-size="27.8" text-anchor="end">5</text>
<line x1="912.1" y1="1040.3" x2="917.3" y2="1040.3" stroke="#000" stroke-width="3.0"/>
<text x="891.1" y="1055.5" font-size="27.8" text-anchor="end">0</text>
<line x1="917.3" y1="1040.3" x2="917.3" y2="1045.3" stroke="#000" stroke-width="3.0"/>
<line x1="1159.8" y1="1040.3" x2="1159.8" y2="1045.3" stroke="#000" stroke-width="3.0"/>
<line x1="1403.7" y1="1040.3" x2="1403.7" y2="1045.3" stroke="#000" stroke-width="3.0"/>
<rect x="1001.6" y="775.4" width="74.2" height="264.9" fill="#a5a5a5"/>
<rect x="1244.0" y="995.8" width="75.9" height="44.5" fill="#a5a5a5"/>
<rect x="1486.9" y="974.0" width="76.0" height="66.3" fill="#a5a5a5"/>
<line x1="1038.9" y1="656.4" x2="1038.9" y2="892.8" stroke="#111" stroke-width="2.0"/>
<line x1="1035.4" y1="656.4" x2="1042.4" y2="656.4" stroke="#111" stroke-width="2.0"/>
<line x1="1035.4" y1="892.8" x2="1042.4" y2="892.8" stroke="#111" stroke-width="2.0"/>
<line x1="1281.4" y1="977.3" x2="1281.4" y2="1013.5" stroke="#111" stroke-width="2.0"/>
<line x1="1277.9" y1="977.3" x2="1284.9" y2="977.3" stroke="#111" stroke-width="2.0"/>
<line x1="1277.9" y1="1013.5" x2="1284.9" y2="1013.5" stroke="#111" stroke-width="2.0"/>
<line x1="1525.4" y1="937.8" x2="1525.4" y2="1010" stroke="#111" stroke-width="2.0"/>
<line x1="1521.9" y1="937.8" x2="1528.9" y2="937.8" stroke="#111" stroke-width="2.0"/>
<line x1="1521.9" y1="1010" x2="1528.9" y2="1010" stroke="#111" stroke-width="2.0"/>
<text x="1040.2" y="636.6" font-size="28" text-anchor="middle">a</text>
<text x="1281.9" y="955.9" font-size="28" text-anchor="middle">b</text>
<text x="1526.3" y="915.4" font-size="28" text-anchor="middle">b</text>
<text x="1011.07" y="1086.1" font-size="27.5" xml:space="preserve"><tspan x="1011.07">MT</tspan><tspan dy="-8" font-size="18.5">-6</tspan></text>
<text x="1195.27" y="1086.1" font-size="27.5" xml:space="preserve"><tspan x="1195.27">MT</tspan><tspan dy="-8" font-size="18.5">-6</tspan><tspan x="1255.10" dy="8" font-size="30">+</tspan><tspan x="1276.82">ACTH</tspan><tspan dy="-8" font-size="18.5">-5</tspan></text>
<text x="1434.08" y="1086.3" font-size="27.5" xml:space="preserve"><tspan x="1434.08">MT</tspan><tspan dy="-8" font-size="18.5">-6</tspan><tspan x="1493.90" dy="8" font-size="30">+</tspan><tspan x="1514.12" font-size="25.5" font-family="'DejaVu Serif', serif">α</tspan><tspan x="1532.37">-MSH</tspan><tspan dy="-8" font-size="18.5">-6</tspan></text>
<text x="1267.5" y="1134" font-size="31.8" text-anchor="middle">Treatments</text>
<line x1="1744.9" y1="629.2" x2="1744.9" y2="1049.5" stroke="#000" stroke-width="4.4"/>
<line x1="1739.7" y1="1041.5" x2="2461.3" y2="1041.5" stroke="#000" stroke-width="4.4"/>
<line x1="1739.7" y1="631.4" x2="1744.9" y2="631.4" stroke="#000" stroke-width="4.4"/>
<text x="1715.2" y="640.9" font-size="27.8" text-anchor="end">6</text>
<line x1="1739.7" y1="699.7" x2="1744.9" y2="699.7" stroke="#000" stroke-width="4.4"/>
<text x="1715.2" y="710" font-size="27.8" text-anchor="end">5</text>
<line x1="1739.7" y1="768.1" x2="1744.9" y2="768.1" stroke="#000" stroke-width="4.4"/>
<text x="1715.2" y="779.1" font-size="27.8" text-anchor="end">4</text>
<line x1="1739.7" y1="836.4" x2="1744.9" y2="836.4" stroke="#000" stroke-width="4.4"/>
<text x="1715.2" y="848.2" font-size="27.8" text-anchor="end">3</text>
<line x1="1739.7" y1="904.7" x2="1744.9" y2="904.7" stroke="#000" stroke-width="4.4"/>
<text x="1715.2" y="917.3" font-size="27.8" text-anchor="end">2</text>
<line x1="1739.7" y1="973" x2="1744.9" y2="973" stroke="#000" stroke-width="4.4"/>
<text x="1715.2" y="986.4" font-size="27.8" text-anchor="end">1</text>
<line x1="1739.7" y1="1041.4" x2="1744.9" y2="1041.4" stroke="#000" stroke-width="4.4"/>
<text x="1715.2" y="1055.5" font-size="27.8" text-anchor="end">0</text>
<line x1="1744.9" y1="1041.5" x2="1744.9" y2="1049.5" stroke="#000" stroke-width="4.4"/>
<line x1="2107.6" y1="1041.5" x2="2107.6" y2="1049.5" stroke="#000" stroke-width="4.4"/>
<rect x="1868.7" y="774.6" width="113.5" height="266.9" fill="#a5a5a5"/>
<rect x="2233.2" y="939.5" width="113.7" height="102.0" fill="#a5a5a5"/>
<line x1="1926.4" y1="672.5" x2="1926.4" y2="875.8" stroke="#111" stroke-width="2.6"/>
<line x1="1922.1" y1="672.5" x2="1930.7" y2="672.5" stroke="#111" stroke-width="2.6"/>
<line x1="1922.1" y1="875.8" x2="1930.7" y2="875.8" stroke="#111" stroke-width="2.6"/>
<line x1="2289.4" y1="890.1" x2="2289.4" y2="990.3" stroke="#111" stroke-width="2.6"/>
<line x1="2285.1" y1="890.1" x2="2293.7" y2="890.1" stroke="#111" stroke-width="2.6"/>
<line x1="2285.1" y1="990.3" x2="2293.7" y2="990.3" stroke="#111" stroke-width="2.6"/>
<text x="1927" y="655.4" font-size="28" text-anchor="middle">a</text>
<text x="2288.5" y="869.9" font-size="28" text-anchor="middle">b</text>
<text x="1903.67" y="1086.3" font-size="27.5" xml:space="preserve"><tspan x="1903.67">MT</tspan><tspan dy="-8" font-size="18.5">-6</tspan></text>
<text x="2203.68" y="1086.3" font-size="27.5" xml:space="preserve"><tspan x="2203.68">MT</tspan><tspan dy="-8" font-size="18.5">-6</tspan><tspan x="2263.50" dy="8" font-size="30">+</tspan><tspan x="2283.72" font-size="25.5" font-family="'DejaVu Serif', serif">α</tspan><tspan x="2301.97">-MSH</tspan><tspan dy="-8" font-size="18.5">-6</tspan></text>
<text x="2106.4" y="1134.2" font-size="31.8" text-anchor="middle">Treatments</text>
<text x="0" y="0" font-size="31.7" text-anchor="middle" xml:space="preserve" transform="translate(27.8,844.4) rotate(-90)">Ltot (Gq h<tspan font-size="21" dy="-11">-1</tspan><tspan dy="11"> cm</tspan><tspan font-size="21" dy="-11">-2</tspan><tspan dy="11">)</tspan></text>
<text x="17.6" y="1204.4" font-size="32.2" text-anchor="start">Symbol:</text>
<polygon points="157.5,1206.7 180,1206.7 168.75,1182.4" fill="#000"/>
<text x="189.45" y="1204.4" font-size="31.8" xml:space="preserve"><tspan x="189.45">MT</tspan><tspan dy="-10" font-size="21">-6</tspan></text>
<rect x="307.6" y="1177.7" width="27.4" height="29.2" rx="2" fill="none" stroke="#000" stroke-width="5"/>
<text x="344.25" y="1204.4" font-size="31.8" xml:space="preserve"><tspan x="344.25">MT</tspan><tspan dy="-10" font-size="21">-6</tspan><tspan x="416.81" dy="10">+</tspan><tspan x="442.28">ACTH</tspan><tspan dy="-10" font-size="21">-5</tspan></text>
<ellipse cx="648.7" cy="1194.5" rx="14.3" ry="14.9" fill="#000"/>
<text x="671.05" y="1204.4" font-size="31.8" xml:space="preserve"><tspan x="671.05">MT</tspan><tspan dy="-10" font-size="21">-6</tspan><tspan x="735.71" dy="10">+</tspan><tspan x="762.12" font-size="27.5" font-family="'DejaVu Serif', serif">α</tspan><tspan x="782.11">-MSH</tspan><tspan dy="-10" font-size="21">-6</tspan></text>
</svg>
</body></html>
